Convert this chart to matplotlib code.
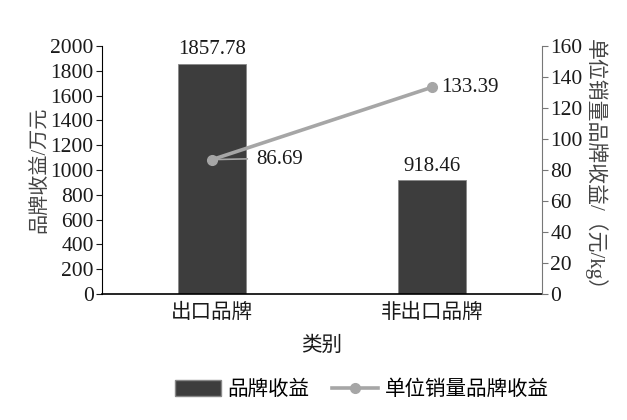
import matplotlib
matplotlib.use("Agg")
import matplotlib.pyplot as plt
from matplotlib.lines import Line2D
from matplotlib.patches import Patch

plt.rcParams['font.family'] = ['Liberation Serif', 'Noto Sans CJK SC']

categories = ['出口品牌', '非出口品牌']
revenue = [1857.78, 918.46]
unit_revenue = [86.69, 133.39]
left_ticks = list(range(0, 2001, 200))
right_ticks = list(range(0, 161, 20))

bar_color = '#3d3d3d'
line_color = '#a6a6a6'
text_color = '#1a1a1a'

fig = plt.figure(figsize=(6.27, 4.2), dpi=100)
ax = fig.add_axes([102/627, 1-294/420, 440/627, 248/420])
x = list(range(len(categories)))
ax.bar(x, revenue, width=0.31, color=bar_color, edgecolor='#888888', linewidth=0.6, zorder=2)
ax.set_xlim(-0.5, 1.5)
ax.set_ylim(0, 2000)
ax.set_yticks(left_ticks)
ax.set_xticks(x)
ax.set_xticklabels(categories, fontsize=14.8, color=text_color)
ax.tick_params(axis='y', labelsize=15.5, colors=text_color, length=4, width=0.8, pad=2)
ax.tick_params(axis='x', length=0, pad=7)
ax.spines['top'].set_visible(False)
ax.spines['right'].set_visible(False)
ax.spines['bottom'].set_linewidth(1.2)
ax.spines['left'].set_linewidth(0.8)
ax.set_ylabel('品牌收益/万元', fontsize=14.5, color='#444444', labelpad=0)
ax.set_xlabel('类别', fontsize=14.8, color=text_color, labelpad=10)
for xi, v in zip(x, revenue):
    ax.text(xi, v + 35, f'{v:.2f}', ha='center', va='bottom', fontsize=15, color=text_color)

ax2 = ax.twinx()
ax2.plot(x, unit_revenue, color=line_color, linewidth=2.6, marker='o', markersize=7, zorder=3)
ax2.set_ylim(0, 160)
ax2.set_yticks(right_ticks)
ax2.tick_params(axis='y', labelsize=15.5, colors=text_color, length=4, width=0.8, pad=2)
ax2.tick_params(axis='y', color='#777777')
ax2.spines['top'].set_visible(False)
ax2.spines['left'].set_visible(False)
ax2.spines['bottom'].set_visible(False)
ax2.spines['right'].set_color('#777777')
ax2.spines['right'].set_linewidth(0.8)
ax2.set_ylabel('单位销量品牌收益/（元/kg）', fontsize=15, color='#444444', rotation=270, labelpad=17)

# value labels for the line
ax2.plot([x[0], x[0] + 0.16], [unit_revenue[0], unit_revenue[0] + 0.5], color=line_color, linewidth=1.2)
ax2.text(x[0] + 0.2, unit_revenue[0], f'{unit_revenue[0]:.2f}', ha='left', va='center', fontsize=15, color=text_color)
ax2.text(x[1] + 0.04, unit_revenue[1], f'{unit_revenue[1]:.2f}', ha='left', va='center', fontsize=15, color=text_color)

handles = [Patch(facecolor=bar_color, edgecolor='#888888'),
           Line2D([0], [0], color=line_color, linewidth=2.6, marker='o', markersize=7)]
fig.legend(handles, ['品牌收益', '单位销量品牌收益'], loc='center', bbox_to_anchor=(362/627, 1-390/420),
           ncol=2, frameon=False, fontsize=14.8, handlelength=2.2, handleheight=0.8, columnspacing=1.1,
           handletextpad=0.35)

fig.savefig('out.png', dpi=100)
